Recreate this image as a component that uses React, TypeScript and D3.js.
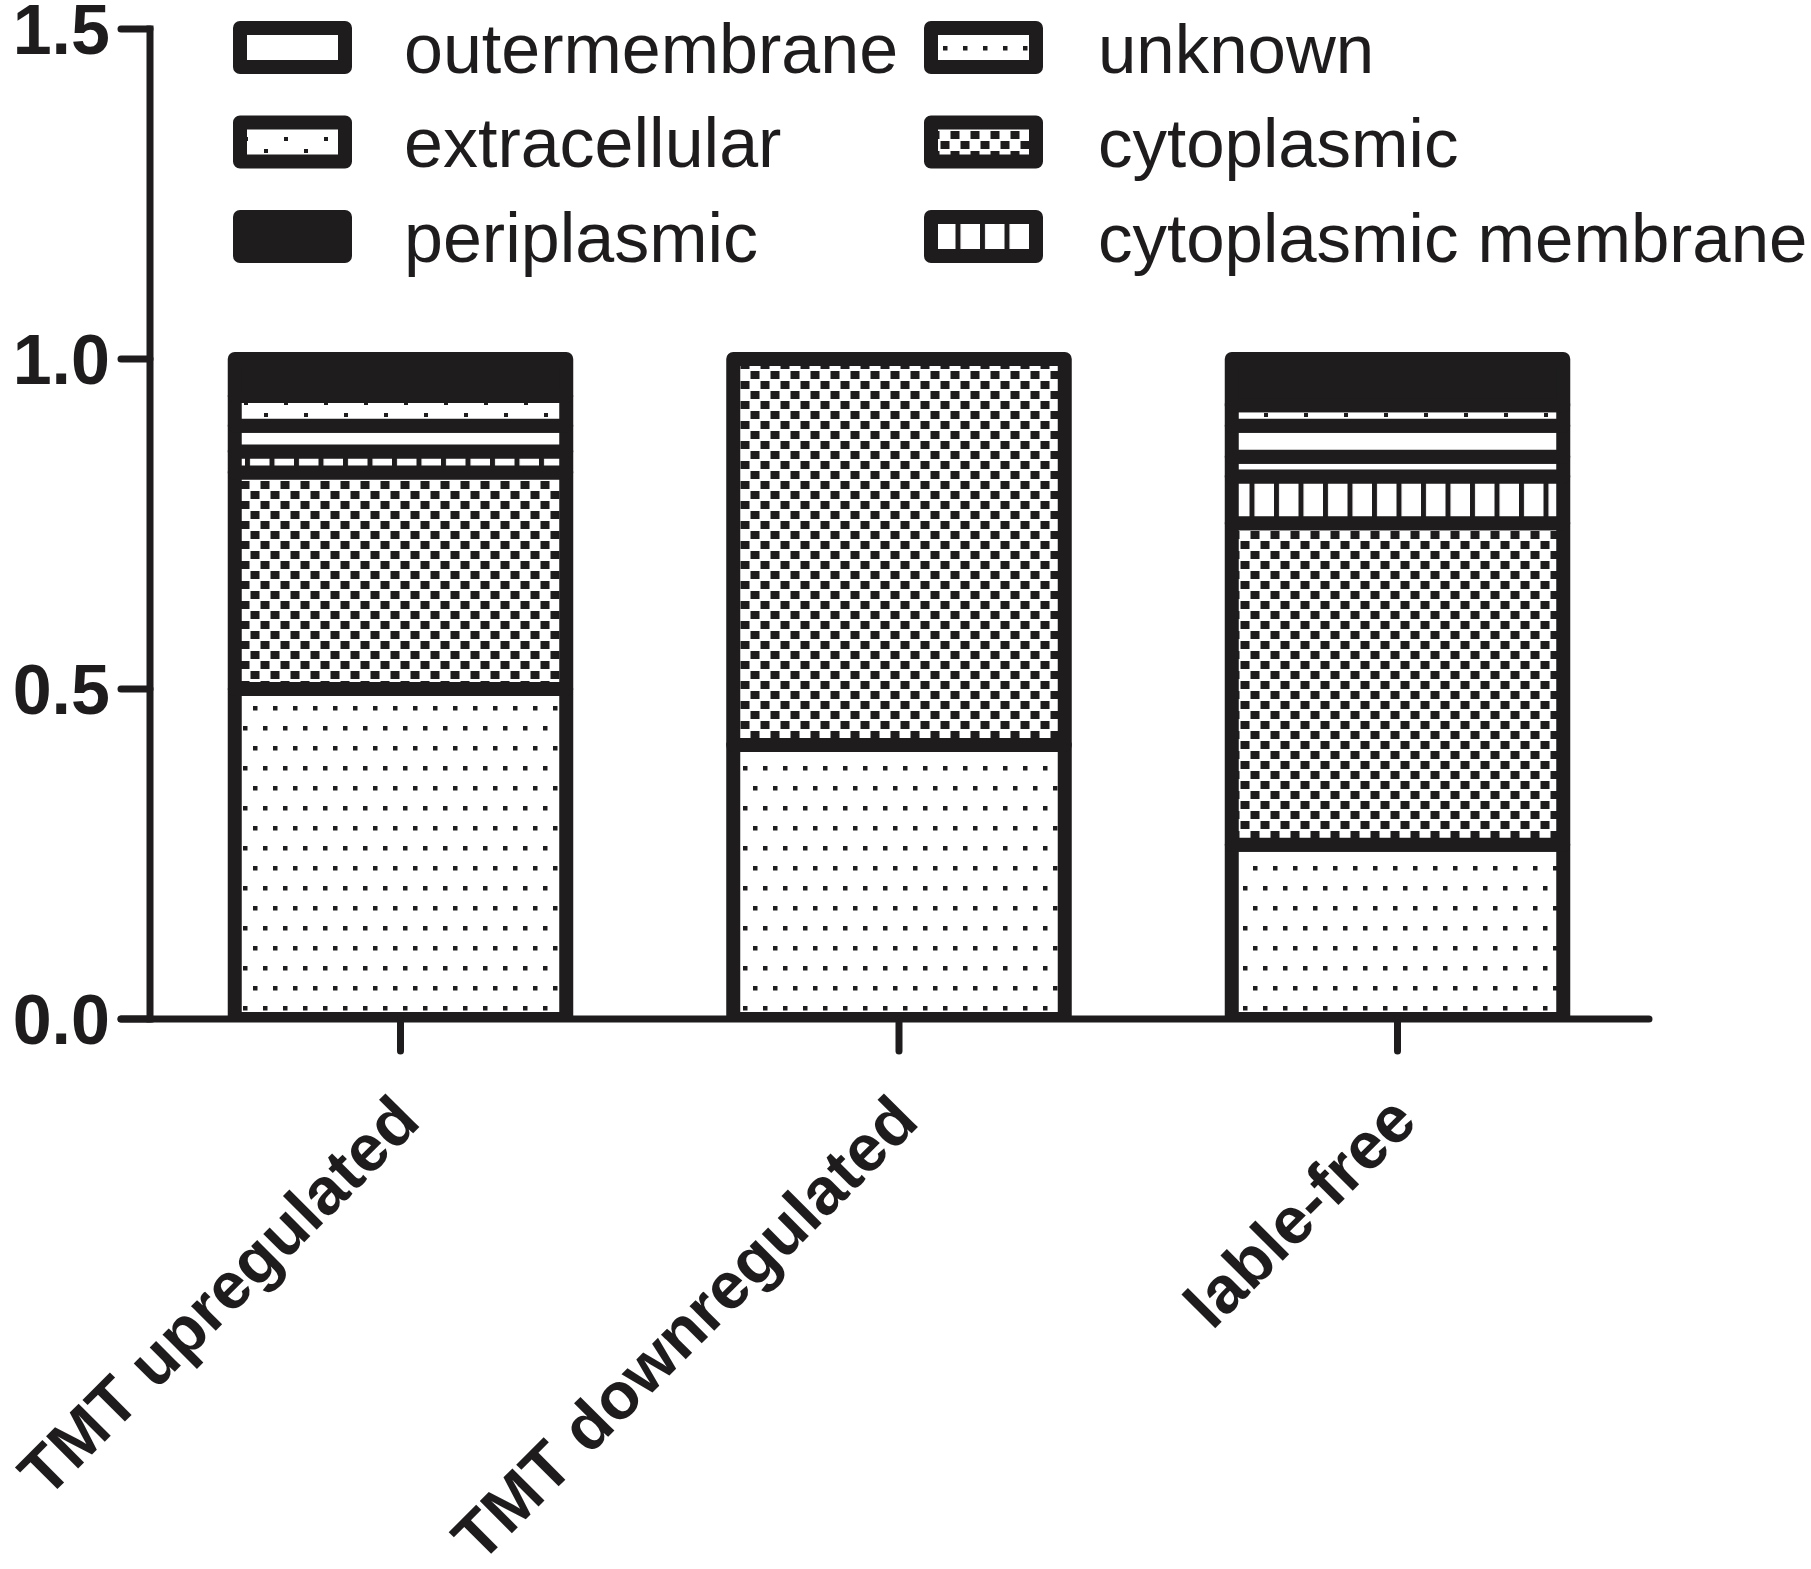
import React from "react";
import * as d3 from "d3";

// categories on the x axis
const groups = ["TMT upregulated", "TMT downregulated", "lable-free"];

// stacked fractions, bottom to top
const unknown = [0.5, 0.415, 0.264];
const cytoplasmic = [0.328, 0.585, 0.487];
const cytoplasmicMembrane = [0.032, 0, 0.071];
const unlabeled = [0, 0, 0.03]; // thin white band in "lable-free" with no legend entry
const outermembrane = [0.039, 0, 0.047];
const extracellular = [0.045, 0, 0.031];
const periplasmic = [0.056, 0, 0.07];

const yTicks = [0, 0.5, 1.0, 1.5];

const legendCol1 = ["outermembrane", "extracellular", "periplasmic"];
const legendCol2 = ["unknown", "cytoplasmic", "cytoplasmic membrane"];

const keys = [
  "unknown",
  "cytoplasmic",
  "cytoplasmic membrane",
  "unlabeled",
  "outermembrane",
  "extracellular",
  "periplasmic",
];

const ink = "#1e1c1c";
const font = "'Liberation Sans', Arial, Helvetica, sans-serif";

const fillFor: Record<string, string> = {
  unknown: "url(#pDots)",
  cytoplasmic: "url(#pChecker)",
  "cytoplasmic membrane": "url(#pBars)",
  unlabeled: "#ffffff",
  outermembrane: "#ffffff",
  extracellular: "url(#pSparse)",
  periplasmic: ink,
};

export default function App() {
  const width = 1811;
  const height = 1569;
  const yTop = 29;
  const yBottom = 1019;
  const axisLeft = 150;

  const rows = groups.map((g, i) => ({
    group: g,
    unknown: unknown[i],
    cytoplasmic: cytoplasmic[i],
    "cytoplasmic membrane": cytoplasmicMembrane[i],
    unlabeled: unlabeled[i],
    outermembrane: outermembrane[i],
    extracellular: extracellular[i],
    periplasmic: periplasmic[i],
  }));

  const series = d3.stack<any>().keys(keys)(rows);

  const x = d3
    .scaleBand()
    .domain(groups)
    .range([axisLeft, 1648])
    .paddingInner(0.335)
    .paddingOuter(0.17);

  const y = d3.scaleLinear().domain([0, 1.5]).range([yBottom, yTop]);

  const legendRowY = (i: number) => 47.5 + i * 94.5;

  const swatch = (key: string, sx: number, cy: number) => (
    <rect
      x={sx}
      y={cy - 19.5}
      width={105}
      height={39}
      fill={fillFor[key]}
      stroke={ink}
      strokeWidth={14}
      strokeLinejoin="round"
    />
  );

  return (
    <svg
      width={width}
      height={height}
      style={{ position: "absolute", left: 0, top: 0, background: "#fff" }}
    >
      <defs>
        <pattern id="pDots" patternUnits="userSpaceOnUse" width={20} height={40}>
          <rect width={20} height={40} fill="#fff" />
          <rect x={3} y={6} width={4.5} height={4.5} fill={ink} />
          <rect x={13} y={26} width={4.5} height={4.5} fill={ink} />
        </pattern>
        <pattern id="pChecker" patternUnits="userSpaceOnUse" width={20} height={20}>
          <rect width={20} height={20} fill="#fff" />
          <rect x={0.5} y={1} width={9} height={8} fill={ink} />
          <rect x={10.5} y={11} width={9} height={8} fill={ink} />
        </pattern>
        <pattern id="pBars" patternUnits="userSpaceOnUse" width={24.5} height={20}>
          <rect width={24.5} height={20} fill="#fff" />
          <rect x={0} y={0} width={5} height={20} fill={ink} />
        </pattern>
        <pattern id="pSparse" patternUnits="userSpaceOnUse" width={40} height={24}>
          <rect width={40} height={24} fill="#fff" />
          <rect x={4} y={17} width={4} height={4} fill={ink} />
          <rect x={24} y={5} width={4} height={4} fill={ink} />
        </pattern>
        <clipPath id="plotClip">
          <rect x={0} y={0} width={width} height={yBottom} />
        </clipPath>
      </defs>

      {/* stacked bars */}
      <g clipPath="url(#plotClip)">
        {series.map((s) =>
          s
            .filter((d) => d[1] - d[0] > 0)
            .map((d) => (
              <rect
                key={`${s.key}-${d.data.group}`}
                x={x(d.data.group)}
                y={y(d[1])}
                width={x.bandwidth()}
                height={y(d[0]) - y(d[1])}
                fill={fillFor[s.key]}
                stroke={ink}
                strokeWidth={14}
                strokeLinejoin="round"
              />
            ))
        )}
      </g>

      {/* y axis */}
      <line x1={axisLeft} x2={axisLeft} y1={y(1.5)} y2={yBottom} stroke={ink} strokeWidth={7} strokeLinecap="square" />
      {yTicks.map((t) => (
        <g key={t}>
          <line x1={axisLeft - 29} x2={axisLeft} y1={y(t)} y2={y(t)} stroke={ink} strokeWidth={7} strokeLinecap="round" />
          <text
            x={110}
            y={y(t) + 25}
            textAnchor="end"
            fontFamily={font}
            fontWeight="bold"
            fontSize={70}
            fill={ink}
          >
            {d3.format(".1f")(t)}
          </text>
        </g>
      ))}

      {/* x axis */}
      <line x1={axisLeft - 29} x2={1649} y1={yBottom} y2={yBottom} stroke={ink} strokeWidth={7} strokeLinecap="round" />
      {groups.map((g) => {
        const cx = (x(g) as number) + x.bandwidth() / 2;
        return (
          <g key={g}>
            <line x1={cx} x2={cx} y1={yBottom} y2={1051} stroke={ink} strokeWidth={7} strokeLinecap="round" />
            <text
              transform={`translate(${cx + 22},1124) rotate(-45)`}
              textAnchor="end"
              fontFamily={font}
              fontWeight="bold"
              fontSize={66}
              fill={ink}
            >
              {g}
            </text>
          </g>
        );
      })}

      {/* legend */}
      {legendCol1.map((k, i) => (
        <g key={k}>
          {swatch(k, 240, legendRowY(i))}
          <text x={404} y={legendRowY(i) + 25} fontFamily={font} fontSize={70} fill={ink}>
            {k}
          </text>
        </g>
      ))}
      {legendCol2.map((k, i) => (
        <g key={k}>
          {swatch(k, 931, legendRowY(i))}
          <text x={1098} y={legendRowY(i) + 25} fontFamily={font} fontSize={69} fill={ink}>
            {k}
          </text>
        </g>
      ))}
    </svg>
  );
}
